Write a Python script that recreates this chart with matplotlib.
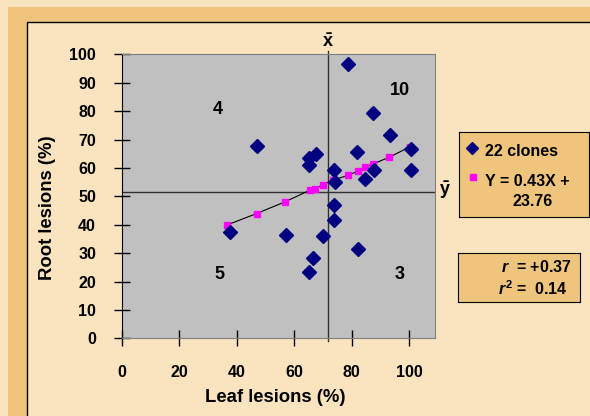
import numpy as np
import matplotlib.pyplot as plt
from matplotlib.patches import Rectangle

plt.rcParams['font.family'] = ['Liberation Sans', 'DejaVu Sans']
plt.rcParams['font.weight'] = 'bold'
plt.rcParams['mathtext.fontset'] = 'custom'
plt.rcParams['mathtext.rm'] = 'Liberation Sans:bold'
plt.rcParams['mathtext.it'] = 'Liberation Sans:italic:bold'
plt.rcParams['mathtext.bf'] = 'Liberation Sans:bold'

# 22 clones: leaf vs root lesions (%)
leaf = [78.7, 87.5, 93.4, 46.9, 100.5, 82.0, 67.6, 65.3, 65.3, 74.0, 87.7,
        100.7, 84.8, 74.1, 74.0, 74.0, 37.6, 57.0, 70.0, 82.2, 66.7, 65.3]
root = [96.7, 79.2, 71.7, 67.8, 66.7, 65.5, 64.8, 63.4, 61.1, 59.4, 59.4,
        59.4, 56.2, 54.9, 46.9, 41.5, 37.5, 36.5, 36.0, 31.4, 28.3, 23.2]

# fitted values (Y = 0.43X + 23.76) as drawn
fit_x = [36.6, 46.9, 56.9, 65.4, 67.4, 70.0, 73.5, 78.8, 82.2, 84.8, 87.4, 93.0, 100.4]
fit_y = [39.9, 43.9, 48.1, 52.1, 52.7, 54.1, 55.7, 57.4, 58.9, 60.3, 61.4, 63.7, 67.5]

x_mean = 71.6
y_mean = 51.5

quad_labels = ['4', '10', '5', '3']
quad_x = [33.4, 96.7, 33.9, 96.6]
quad_y = [80.6, 87.4, 22.6, 22.6]

xticks = [0, 20, 40, 60, 80, 100]
yticks = list(range(0, 101, 10))

W, H = 590, 416
BG = '#F9E4BF'
ORANGE = '#EFC47D'

fig = plt.figure(figsize=(W / 100, H / 100), dpi=100)
fig.patch.set_facecolor(BG)

# frame bands
fig.add_artist(Rectangle((8 / W, 0), 1, 1 - 7 / H, transform=fig.transFigure,
                         facecolor=ORANGE, edgecolor='none', zorder=0))
fig.add_artist(Rectangle((27 / W, -0.01), 1, 1 - 22 / H + 0.01, transform=fig.transFigure,
                         facecolor=BG, edgecolor='black', linewidth=1, zorder=0))

ax = fig.add_axes([121.7 / W, 1 - 338.3 / H, (435 - 121.7) / W, (338.3 - 54.3) / H])
ax.set_facecolor('#C0C0C0')
ax.set_xlim(0, 109)
ax.set_ylim(0, 100)
ax.set_xticks(xticks)
ax.set_yticks(yticks)
ax.tick_params(direction='inout', length=12, width=1, labelsize=11.5, color='black')
ax.tick_params(axis='y', pad=12.5)
ax.tick_params(axis='x', pad=13)
for s in ['top', 'right', 'bottom']:
    ax.spines[s].set_color('#808080')
ax.spines['left'].set_color('black')

# mean lines
ax.plot([x_mean, x_mean], [-1, 101], color='#303030', lw=1, clip_on=False, zorder=2)
ax.plot([0, 109], [y_mean, y_mean], color='#303030', lw=1, zorder=2)

ax.plot(fit_x, fit_y, color='black', lw=0.8, zorder=3)
ax.plot(fit_x, fit_y, 's', color='#FF00FF', markersize=4.5, zorder=4)
ax.plot(leaf, root, 'D', color='#000080', markersize=7.2, zorder=5)

for lab, qx, qy in zip(quad_labels, quad_x, quad_y):
    ax.text(qx, qy, lab, ha='center', va='center', fontsize=13, fontweight='bold')

fig.text(327.5 / W, 1 - 42 / H, r'$\bar{\mathrm{x}}$', ha='center', va='center', fontsize=13)
fig.text(445 / W, 1 - 190 / H, r'$\bar{\mathrm{y}}$', ha='center', va='center', fontsize=13)

fig.text(275.4 / W, 1 - 398 / H, 'Leaf lesions (%)', ha='center', va='center',
         fontsize=13.3, fontweight='bold')
fig.text(48 / W, 1 - 207.5 / H, 'Root lesions (%)', ha='center', va='center',
         rotation=90, fontsize=13.3, fontweight='bold')

# legend box
lg = fig.add_axes([459 / W, 1 - 217 / H, 130 / W, 85 / H])
lg.set_facecolor(ORANGE)
lg.set_xticks([])
lg.set_yticks([])
for s in lg.spines.values():
    s.set_color('black')
lg.set_xlim(0, 130)
lg.set_ylim(85, 0)
lg.plot([13], [16], 'D', color='#000080', markersize=6.5)
lg.plot([14], [45], 's', color='#FF00FF', markersize=4.5)
lg.text(26, 20, '22 clones', va='center', ha='left', fontsize=11.5, fontweight='bold')
lg.text(26, 50, 'Y = 0.43X +', va='center', ha='left', fontsize=11.5, fontweight='bold')
lg.text(74, 70, '23.76', va='center', ha='center', fontsize=11.5, fontweight='bold')

# correlation box
rb = fig.add_axes([458 / W, 1 - 302 / H, 122 / W, 49 / H])
rb.set_facecolor(ORANGE)
rb.set_xticks([])
rb.set_yticks([])
for s in rb.spines.values():
    s.set_color('black')
rb.set_xlim(0, 122)
rb.set_ylim(49, 0)
rb.text(114, 14, r'$r$  = +0.37', ha='right', va='center', fontsize=11.5)
rb.text(110, 36, r'$r^2$ =  0.14', ha='right', va='center', fontsize=11.5)

fig.savefig('out.png', dpi=100, facecolor=BG)
